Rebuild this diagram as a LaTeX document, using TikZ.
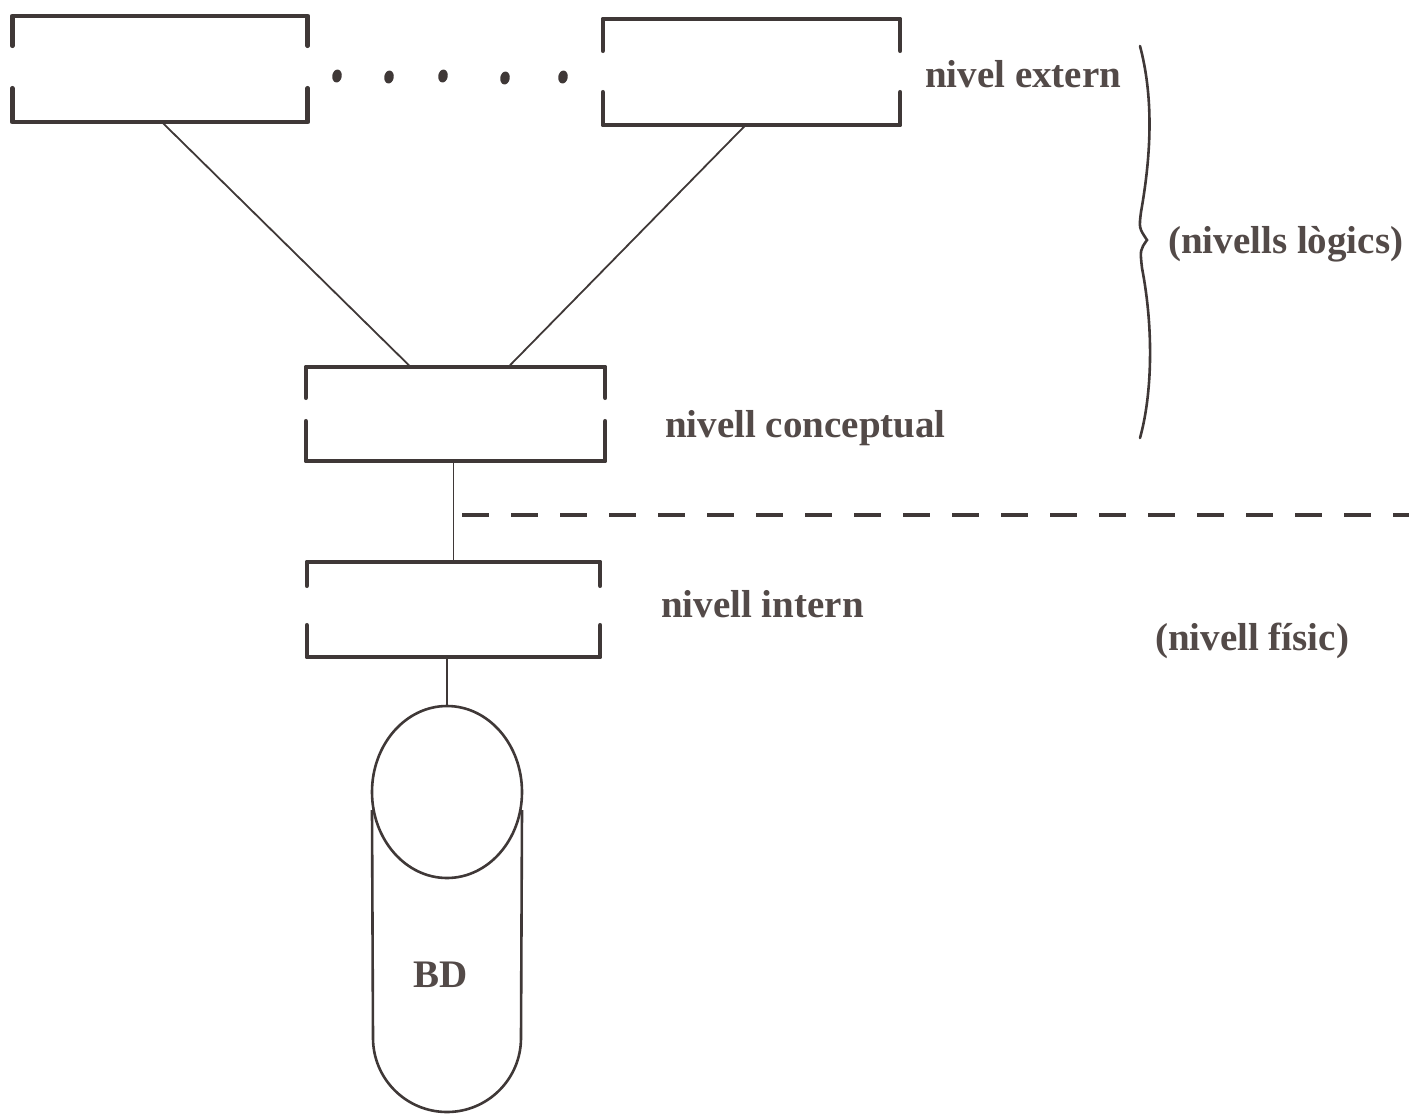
\documentclass[tikz,border=0pt]{standalone}
\usepackage{fontspec}
\setmainfont{Liberation Serif}[BoldFont={Liberation Serif Bold}]
\usetikzlibrary{shapes.geometric}
\definecolor{ink}{HTML}{3F3837}
\definecolor{txt}{HTML}{534A48}
\tikzset{
  levelbox/.style={rectangle, draw=none, inner sep=0pt},
  bracket/.style={ink, line width=4.5pt, line cap=round, line join=round},
  link/.style={ink, line width=1.8pt},
  lbl/.style={txt, inner sep=0pt, anchor=base west, font=\fontsize{39}{44}\selectfont\bfseries},
  dotmark/.style={ellipse, fill=ink, draw=none, inner sep=0pt, minimum width=9.5pt, minimum height=13pt, rotate=-10},
}
% open-sided box: top and bottom bars with short side ticks
\newcommand{\openbox}[3]{%
  \draw[bracket] ([yshift=-#2]#1.north west) -- (#1.north west) -- (#1.north east) -- ([yshift=-#2]#1.north east);
  \draw[bracket] ([yshift=#3]#1.south west) -- (#1.south west) -- (#1.south east) -- ([yshift=#3]#1.south east);}
\begin{document}
\begin{tikzpicture}[x=1pt,y=1pt]
\useasboundingbox (0,0) rectangle (1409,-1117);

% level boxes
\node[levelbox, minimum width=295pt, minimum height=106pt] (ext1) at (160,-69) {};
\node[levelbox, minimum width=297pt, minimum height=106pt] (ext2) at (751.5,-72) {};
\node[levelbox, minimum width=299pt, minimum height=94pt] (conc) at (455.5,-414) {};
\node[levelbox, minimum width=293pt, minimum height=95pt] (intr) at (453.5,-609.5) {};
\openbox{ext1}{30pt}{34pt}
\openbox{ext2}{32pt}{33pt}
\openbox{conc}{31pt}{40pt}
\openbox{intr}{24pt}{32pt}

% dots between the external boxes
\node[dotmark] (d1) at (337,-76) {};
\node[dotmark] (d2) at (389,-77) {};
\node[dotmark] (d3) at (443,-76) {};
\node[dotmark] (d4) at (505,-78) {};
\node[dotmark] (d5) at (563,-77) {};

% database cylinder
\node[ellipse, draw=ink, line width=2.6pt, minimum width=150pt, minimum height=172pt, inner sep=0pt, outer sep=0pt] (db) at (447,-792) {};
\draw[ink, line width=2.6pt] ([yshift=-18pt]db.west) -- (373,-1038) arc[start angle=180, end angle=360, radius=74] -- ([yshift=-18pt]db.east);
\node[txt, font=\fontsize{39}{44}\selectfont\bfseries] (bd) at (441,-975) {BD};

% connectors
\draw[link] ([xshift=2pt]ext1.south) -- ([xshift=-45pt]conc.north);
\draw[link] ([xshift=-6pt]ext2.south) -- ([xshift=53pt]conc.north);
\draw[link] ([xshift=-2pt]conc.south) -- ([xshift=-2pt]conc.south |- intr.north);
\draw[link] (db.north |- intr.south) -- (db.north);

% boundary between logical and physical levels
\coordinate (cutL) at (462,-515);
\coordinate (cutR) at (1409,-515);
\draw[ink, line width=4pt, dash pattern=on 27pt off 22pt] (cutL) -- (cutR);

% hand-drawn brace over the logical levels
\coordinate (brT) at (1140,-46);
\coordinate (brM) at (1147,-240);
\coordinate (brB) at (1140,-438);
\draw[ink, line width=2.6pt, line cap=round]
  (brT) .. controls (1153,-95) and (1152,-150) .. (1141,-212)
        .. controls (1139,-228) .. (brM)
        .. controls (1140,-250) .. (1142,-268)
        .. controls (1154,-330) and (1152,-395) .. (brB);

% labels
\node[lbl] (lext) at (925,-87) {nivel extern};
\node[lbl] (lconc) at (665,-437) {nivell conceptual};
\node[lbl] (lint) at (661,-617) {nivell intern};
\node[lbl] (llog) at (1168,-253) {(nivells lògics)};
\node[lbl] (lfis) at (1155,-650) {(nivell físic)};
\end{tikzpicture}
\end{document}
